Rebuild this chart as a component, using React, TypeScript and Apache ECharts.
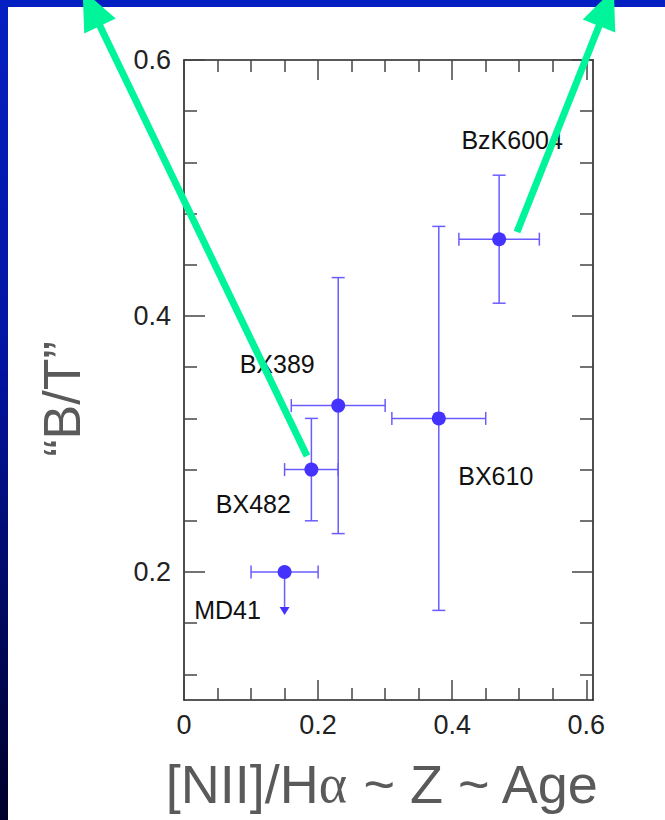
import React, { useEffect, useRef } from "react";
import * as echarts from "echarts";

// ---- data ----
const galaxyNames = ["MD41", "BX482", "BX389", "BX610", "BzK6004"];
const niiHa = [0.15, 0.19, 0.23, 0.38, 0.47];
const niiHaLow = [0.1, 0.15, 0.16, 0.31, 0.41];
const niiHaHigh = [0.2, 0.23, 0.3, 0.45, 0.53];
const bulgeToTotal = [0.2, 0.28, 0.33, 0.32, 0.46];
const bulgeToTotalLow: (number | null)[] = [null, 0.24, 0.23, 0.17, 0.41];
const bulgeToTotalHigh: (number | null)[] = [null, 0.32, 0.43, 0.47, 0.51];
const isUpperLimit = [true, false, false, false, false];

const xMajorTicks = [0, 0.2, 0.4, 0.6];
const xMinorTicks = [0.05, 0.1, 0.15, 0.25, 0.3, 0.35, 0.45, 0.5, 0.55];
const yMajorTicks = [0.2, 0.4, 0.6];
const yMinorTicks = [0.12, 0.16, 0.24, 0.28, 0.32, 0.36, 0.44, 0.48, 0.52, 0.56];

// ---- layout / style ----
const FONT = "'Liberation Sans', Arial, Helvetica, sans-serif";
const POINT_COLOR = "#4433ff";
const ERR_COLOR = "#6a5cff";
const ARROW_COLOR = "#00f59b";
const labelOffsets: Record<string, [number, number]> = {
  MD41: [-57, 38],
  BX482: [-58, 34],
  BX389: [-61, -42],
  BX610: [57, 58],
  BzK6004: [13, -99],
};

function arrowGraphics(x0: number, y0: number, bx: number, by: number) {
  const dx = bx - x0;
  const dy = by - y0;
  const len = Math.sqrt(dx * dx + dy * dy);
  const ux = dx / len;
  const uy = dy / len;
  const px = -uy;
  const py = ux;
  const half = 17.5;
  const headLen = 40;
  return [
    {
      type: "line",
      z: 100,
      silent: true,
      shape: { x1: x0, y1: y0, x2: bx + ux * 4, y2: by + uy * 4 },
      style: { stroke: ARROW_COLOR, lineWidth: 7 },
    },
    {
      type: "polygon",
      z: 100,
      silent: true,
      shape: {
        points: [
          [bx + px * half, by + py * half],
          [bx - px * half, by - py * half],
          [bx + ux * headLen, by + uy * headLen],
        ],
      },
      style: { fill: ARROW_COLOR },
    },
  ];
}

export default function App() {
  const ref = useRef<HTMLDivElement>(null);

  useEffect(() => {
    if (!ref.current) return;
    const chart = echarts.init(ref.current, undefined, { renderer: "svg" });

    const errData = galaxyNames.map((n, i) => [
      niiHa[i],
      bulgeToTotal[i],
      niiHaLow[i],
      niiHaHigh[i],
      bulgeToTotalLow[i] ?? bulgeToTotal[i],
      bulgeToTotalHigh[i] ?? bulgeToTotal[i],
      isUpperLimit[i] ? 1 : 0,
    ]);

    const pointData = galaxyNames.map((n, i) => ({
      name: n,
      value: [niiHa[i], bulgeToTotal[i]],
      label: { offset: labelOffsets[n] },
    }));

    const xBase = {
      type: "value" as const,
      min: 0,
      max: 0.61,
      splitLine: { show: false },
      gridIndex: 0,
    };
    const yBase = {
      type: "value" as const,
      min: 0.1,
      max: 0.6,
      splitLine: { show: false },
      gridIndex: 0,
    };
    const lineStyle = { color: "#222", width: 1.6 };
    const tickStyle = { color: "#444", width: 1.5 };

    const option: any = {
      animation: false,
      backgroundColor: "#ffffff",
      grid: { left: 184, top: 60, right: 72, bottom: 120, containLabel: false },
      xAxis: [
        {
          ...xBase,
          position: "bottom",
          name: "[NII]/H{a|α} ~ Z ~ Age",
          nameLocation: "middle",
          nameGap: 57,
          nameTextStyle: {
            fontFamily: FONT,
            fontSize: 54,
            color: "#5a5a5a",
            padding: [0, 12, 0, 0],
            rich: {
              a: { fontFamily: "'Liberation Serif', 'DejaVu Serif', serif", fontSize: 54, color: "#5a5a5a" },
            },
          },
          axisLine: { show: true, onZero: false, lineStyle },
          axisTick: { show: true, inside: true, length: 20, lineStyle: tickStyle, customValues: xMajorTicks },
          axisLabel: {
            show: true,
            customValues: xMajorTicks,
            margin: 11,
            fontFamily: FONT,
            fontSize: 27,
            color: "#222",
            formatter: (v: number) => String(Math.round(v * 10) / 10),
          },
        },
        {
          ...xBase,
          position: "bottom",
          axisLine: { show: false, onZero: false },
          axisTick: { show: true, inside: true, length: 12, lineStyle: tickStyle, customValues: xMinorTicks },
          axisLabel: { show: false },
        },
        {
          ...xBase,
          position: "top",
          axisLine: { show: true, onZero: false, lineStyle },
          axisTick: { show: true, inside: true, length: 20, lineStyle: tickStyle, customValues: xMajorTicks },
          axisLabel: { show: false },
        },
        {
          ...xBase,
          position: "top",
          axisLine: { show: false, onZero: false },
          axisTick: { show: true, inside: true, length: 12, lineStyle: tickStyle, customValues: xMinorTicks },
          axisLabel: { show: false },
        },
      ],
      yAxis: [
        {
          ...yBase,
          position: "left",
          name: "“B/T”",
          nameLocation: "middle",
          nameRotate: 90,
          nameGap: 96,
          nameTextStyle: { fontFamily: FONT, fontSize: 52, color: "#5a5a5a", padding: [0, 38, 0, 0] },
          axisLine: { show: true, onZero: false, lineStyle },
          axisTick: { show: true, inside: true, length: 21, lineStyle: tickStyle, customValues: yMajorTicks },
          axisLabel: {
            show: true,
            customValues: yMajorTicks,
            margin: 13,
            fontFamily: FONT,
            fontSize: 27,
            color: "#222",
            formatter: (v: number) => String(Math.round(v * 10) / 10),
          },
        },
        {
          ...yBase,
          position: "left",
          axisLine: { show: false, onZero: false },
          axisTick: { show: true, inside: true, length: 13, lineStyle: tickStyle, customValues: yMinorTicks },
          axisLabel: { show: false },
        },
        {
          ...yBase,
          position: "right",
          axisLine: { show: true, onZero: false, lineStyle },
          axisTick: { show: true, inside: true, length: 21, lineStyle: tickStyle, customValues: yMajorTicks },
          axisLabel: { show: false },
        },
        {
          ...yBase,
          position: "right",
          axisLine: { show: false, onZero: false },
          axisTick: { show: true, inside: true, length: 13, lineStyle: tickStyle, customValues: yMinorTicks },
          axisLabel: { show: false },
        },
      ],
      series: [
        {
          type: "custom",
          name: "errors",
          xAxisIndex: 0,
          yAxisIndex: 0,
          silent: true,
          clip: false,
          dimensions: ["x", "y", "xl", "xh", "yl", "yh", "lim"],
          encode: { x: 0, y: 1 },
          data: errData,
          renderItem: (params: any, api: any) => {
            const x = api.value(0);
            const y = api.value(1);
            const xl = api.value(2);
            const xh = api.value(3);
            const yl = api.value(4);
            const yh = api.value(5);
            const lim = api.value(6);
            const p = api.coord([x, y]);
            const pl = api.coord([xl, y]);
            const ph = api.coord([xh, y]);
            const style = { stroke: ERR_COLOR, lineWidth: 1.5, fill: "none" };
            const cap = 6.5;
            const children: any[] = [
              { type: "line", shape: { x1: pl[0], y1: p[1], x2: ph[0], y2: p[1] }, style },
              { type: "line", shape: { x1: pl[0], y1: p[1] - cap, x2: pl[0], y2: p[1] + cap }, style },
              { type: "line", shape: { x1: ph[0], y1: p[1] - cap, x2: ph[0], y2: p[1] + cap }, style },
            ];
            if (lim) {
              const tipY = p[1] + 43;
              children.push(
                { type: "line", shape: { x1: p[0], y1: p[1], x2: p[0], y2: tipY - 5 }, style },
                {
                  type: "polygon",
                  shape: { points: [[p[0] - 5, tipY - 8], [p[0] + 5, tipY - 8], [p[0], tipY]] },
                  style: { fill: POINT_COLOR },
                }
              );
            } else {
              const vl = api.coord([x, yl]);
              const vh = api.coord([x, yh]);
              children.push(
                { type: "line", shape: { x1: p[0], y1: vl[1], x2: p[0], y2: vh[1] }, style },
                { type: "line", shape: { x1: p[0] - cap, y1: vl[1], x2: p[0] + cap, y2: vl[1] }, style },
                { type: "line", shape: { x1: p[0] - cap, y1: vh[1], x2: p[0] + cap, y2: vh[1] }, style }
              );
            }
            return { type: "group", children };
          },
          z: 2,
        },
        {
          type: "scatter",
          name: "galaxies",
          xAxisIndex: 0,
          yAxisIndex: 0,
          silent: true,
          symbol: "circle",
          symbolSize: 14,
          itemStyle: { color: POINT_COLOR, opacity: 1 },
          label: {
            show: true,
            position: "inside",
            formatter: (p: any) => p.name,
            fontFamily: FONT,
            fontSize: 25,
            color: "#111",
          },
          emphasis: { disabled: true },
          data: pointData,
          z: 3,
        },
      ],
      graphic: [
        {
          type: "rect",
          z: 50,
          silent: true,
          shape: { x: 0, y: 0, width: 665, height: 7 },
          style: { fill: "#0520c2" },
        },
        {
          type: "rect",
          z: 50,
          silent: true,
          shape: { x: 0, y: 0, width: 8, height: 820 },
          style: {
            fill: new echarts.graphic.LinearGradient(0, 0, 0, 1, [
              { offset: 0, color: "#0520c2" },
              { offset: 0.45, color: "#0214a0" },
              { offset: 1, color: "#00002a" },
            ]),
          },
        },
        ...arrowGraphics(307, 456, 100, 26),
        ...arrowGraphics(517, 232, 599, 26),
      ],
    };

    chart.setOption(option);
    return () => chart.dispose();
  }, []);

  return (
    <div
      ref={ref}
      style={{ position: "absolute", left: 0, top: 0, width: 665, height: 820, background: "#fff" }}
    />
  );
}
